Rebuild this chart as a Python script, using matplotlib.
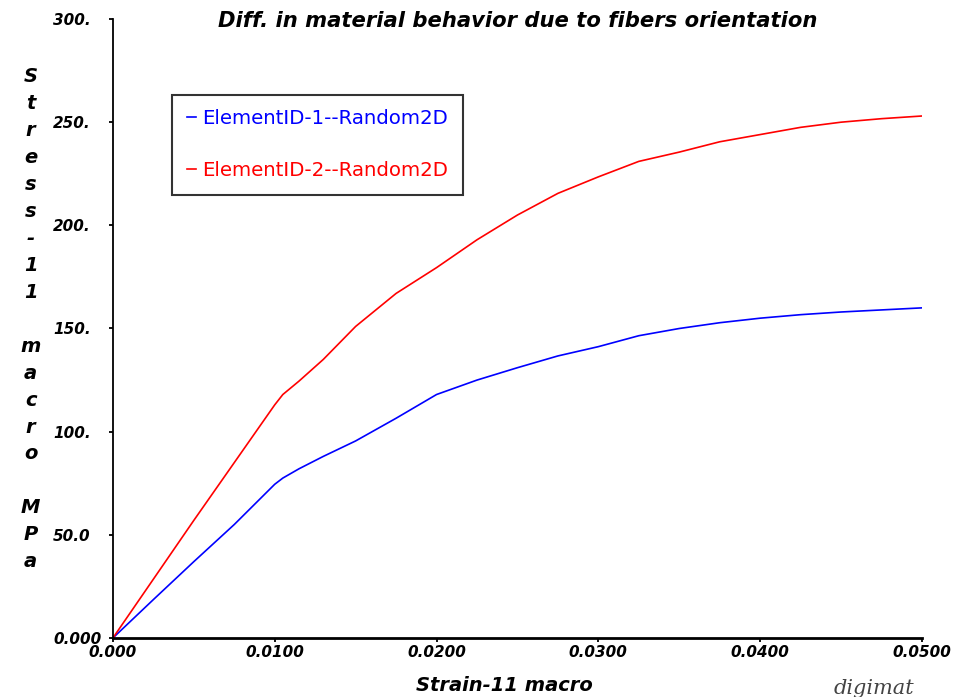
import numpy as np
import matplotlib
matplotlib.use('Agg')
import matplotlib.pyplot as plt

# strain / stress values
strain = [0.0, 0.0025, 0.0050, 0.0075, 0.0100, 0.0105, 0.0115, 0.0130, 0.0150,
          0.0175, 0.0200, 0.0225, 0.0250, 0.0275, 0.0300, 0.0325, 0.0350,
          0.0375, 0.0400, 0.0425, 0.0450, 0.0475, 0.0500]
stress_1 = [0.0, 18.6, 37.0, 55.0, 74.5, 77.5, 82.0, 88.0, 95.5,
            106.5, 118.0, 125.0, 131.0, 136.7, 141.2, 146.5, 150.0,
            152.8, 155.0, 156.7, 158.0, 159.0, 160.0]
stress_2 = [0.0, 28.5, 57.0, 85.0, 113.0, 118.0, 124.5, 135.0, 151.0,
            167.0, 179.5, 193.0, 205.0, 215.5, 223.5, 231.0, 235.5,
            240.5, 244.0, 247.5, 250.0, 251.7, 253.0]
labels = ['ElementID-1--Random2D', 'ElementID-2--Random2D']

xticks = [0.0, 0.01, 0.02, 0.03, 0.04, 0.05]
xticklabels = ['0.000', '0.0100', '0.0200', '0.0300', '0.0400', '0.0500']
yticks = [0, 50, 100, 150, 200, 250, 300]
yticklabels = ['0.000', '50.0', '100.', '150.', '200.', '250.', '300.']

fig = plt.figure(figsize=(9.57, 6.97), dpi=100)
ax = fig.add_axes([0.118, 0.0847, 0.8454, 0.888])

ax.plot(strain, stress_1, color='#0000ff', lw=1.2, label=labels[0])
ax.plot(strain, stress_2, color='#ff0000', lw=1.2, label=labels[1])

ax.set_xlim(0, 0.05)
ax.set_ylim(0, 300)
ax.set_xticks(xticks)
ax.set_xticklabels(xticklabels)
ax.set_yticks(yticks)
ax.set_yticklabels(yticklabels)

for s in ['top', 'right']:
    ax.spines[s].set_visible(False)
ax.spines['left'].set_linewidth(1.3)
ax.spines['bottom'].set_linewidth(2.0)
ax.tick_params(direction='out', length=3, width=1.3, labelsize=11)
ax.tick_params(axis='x', pad=2)
ax.tick_params(axis='y', pad=40)
for t in ax.get_xticklabels() + ax.get_yticklabels():
    t.set_fontweight('bold')
    t.set_fontstyle('italic')
for t in ax.get_yticklabels():
    t.set_horizontalalignment('left')

leg = ax.legend(loc='upper left', bbox_to_anchor=(0.073, 0.878), handlelength=0.45,
                handletextpad=0.35, labelspacing=1.65, fontsize=14.2,
                fancybox=False, edgecolor='black', borderpad=0.75,
                borderaxespad=0, labelcolor='linecolor')
leg.get_frame().set_linewidth(1.5)

fig.text(0.541, 0.97, 'Diff. in material behavior due to fibers orientation',
         ha='center', va='center', fontsize=15.2, fontweight='bold', fontstyle='italic')
fig.text(0.527, 0.017, 'Strain-11 macro', ha='center', va='center',
         fontsize=14, fontweight='bold', fontstyle='italic')
fig.text(0.032, 0.542, '\n'.join(list('Stress-11 macro MPa')), ha='center', va='center',
         fontsize=14, fontweight='bold', fontstyle='italic', linespacing=1.53)
fig.text(0.955, 0.012, 'digimat', ha='right', va='center', fontsize=15,
         fontstyle='italic', family='DejaVu Serif', color='#444444')

fig.savefig('out.png', dpi=100)
